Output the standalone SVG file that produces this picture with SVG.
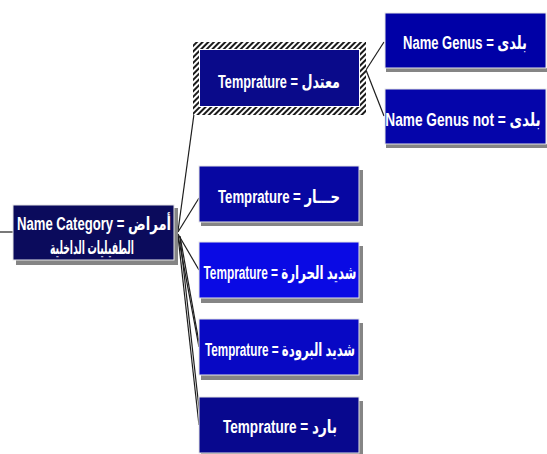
<svg xmlns="http://www.w3.org/2000/svg" width="547" height="454" viewBox="0 0 547 454">
<defs>
<pattern id="hatch" width="4" height="4" patternUnits="userSpaceOnUse" patternTransform="rotate(45)">
<rect width="4" height="4" fill="#ffffff"/>
<rect width="2" height="4" fill="#1a1a1a"/>
</pattern>
</defs>
<style>
.shadow{fill:#858585}
.box{stroke:#e6e6e6;stroke-width:1}
.t{fill:#ffffff;font-family:"Liberation Sans","DejaVu Sans",sans-serif;font-weight:bold;font-size:18px;text-anchor:middle;dominant-baseline:central}
.c{fill:none;stroke:#1e1e1e;stroke-width:1.2}
</style>
<rect width="547" height="454" fill="#ffffff"/>
<g id="connectors">
<line class="c" x1="0" y1="232" x2="13" y2="232"/>
<line class="c" x1="178" y1="231" x2="194" y2="114"/>
<line class="c" x1="178" y1="232" x2="199" y2="198"/>
<line class="c" x1="178" y1="234" x2="199" y2="270"/>
<line class="c" x1="178" y1="235" x2="199" y2="347"/>
<line class="c" x1="180" y1="236" x2="200" y2="348"/>
<line class="c" x1="178" y1="236" x2="199" y2="425"/>
<line class="c" x1="180" y1="237" x2="201" y2="426"/>
<line class="c" x1="366" y1="70" x2="384" y2="42"/>
<line class="c" x1="366" y1="70" x2="384" y2="116"/>
</g>
<g id="root">
<rect class="shadow" x="16" y="208" width="162" height="57"/>
<rect class="box" x="13" y="205" width="161" height="55" fill="#0b0b5c"/>
<text class="t" x="94" y="224" textLength="154" lengthAdjust="spacingAndGlyphs">Name Category = أمراض</text>
<text class="t" x="92" y="248" textLength="84" lengthAdjust="spacingAndGlyphs">الطفيليات الداخلية</text>
</g>
<g id="n-moatadel">
<rect x="193" y="42" width="173" height="73" fill="url(#hatch)"/>
<rect x="199" y="49" width="161" height="58" fill="#ffffff"/>
<rect x="200" y="50" width="159" height="56" fill="#0a0a8a"/>
<text class="t" x="279" y="82" textLength="122" lengthAdjust="spacingAndGlyphs">Temprature = معتدل</text>
</g>
<g id="n-genus">
<rect class="shadow" x="386" y="68" width="161" height="4"/>
<rect class="box" x="385" y="13" width="161" height="55" fill="#0000a6"/>
<text class="t" x="465" y="43" textLength="124" lengthAdjust="spacingAndGlyphs">Name Genus = بلدى</text>
</g>
<g id="n-genus-not">
<rect class="shadow" x="386" y="144" width="161" height="4"/>
<rect class="box" x="385" y="89" width="161" height="55" fill="#0505aa"/>
<text class="t" transform="translate(463,120) scale(0.76,1)" x="0" y="0">Name Genus not = بلدى</text>
</g>
<g id="n-har">
<rect class="shadow" x="201" y="170" width="162" height="56"/>
<rect class="box" x="199" y="166" width="160" height="56" fill="#0707a2"/>
<text class="t" x="279" y="197" textLength="122" lengthAdjust="spacingAndGlyphs">Temprature = حـــار</text>
</g>
<g id="n-shadid-harara">
<rect class="shadow" x="201" y="246" width="162" height="57"/>
<rect class="box" x="199" y="242" width="160" height="56" fill="#0a0ae4"/>
<text class="t" x="280" y="273" textLength="153" lengthAdjust="spacingAndGlyphs">Temprature = شديد الحرارة</text>
</g>
<g id="n-shadid-buruda">
<rect class="shadow" x="201" y="323" width="162" height="57"/>
<rect class="box" x="199" y="319" width="160" height="56" fill="#0808c4"/>
<text class="t" x="280" y="350" textLength="150" lengthAdjust="spacingAndGlyphs">Temprature = شديد البرودة</text>
</g>
<g id="n-bared">
<rect class="shadow" x="201" y="401" width="162" height="56"/>
<rect class="box" x="199" y="397" width="160" height="56" fill="#08088e"/>
<text class="t" x="280" y="427" textLength="114" lengthAdjust="spacingAndGlyphs">Temprature = بارد</text>
</g>
</svg>
